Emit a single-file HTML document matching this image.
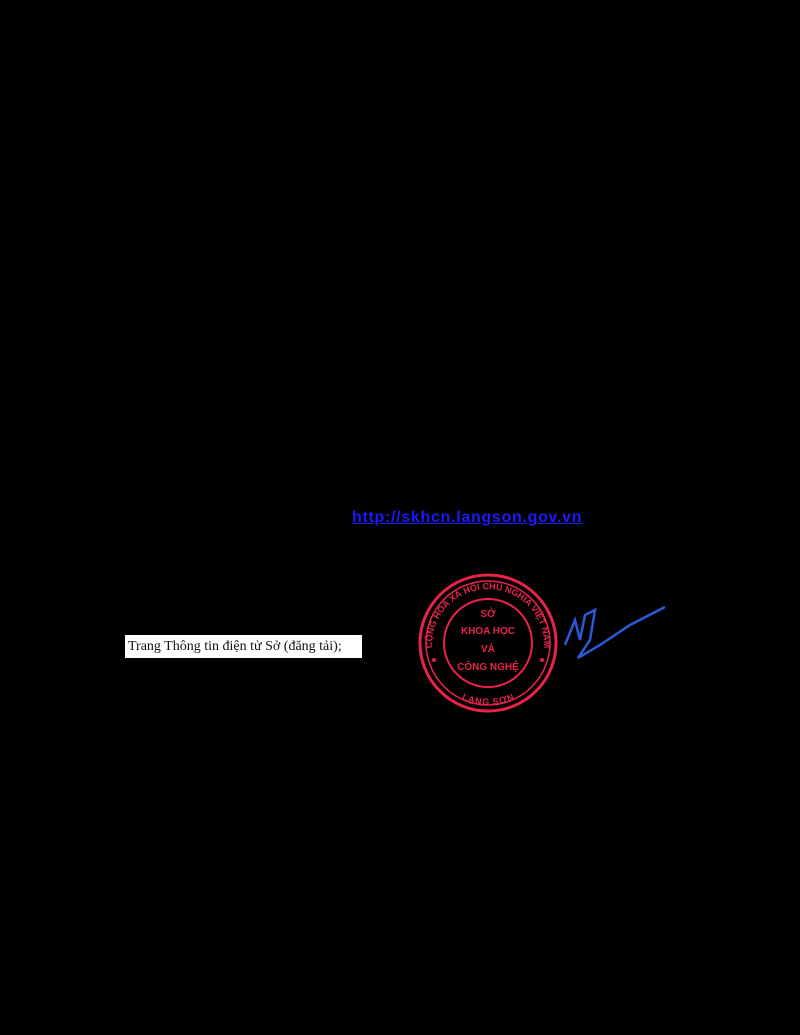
<!DOCTYPE html>
<html><head><meta charset="utf-8"><style>
html,body{margin:0;padding:0;background:#000;width:800px;height:1035px;overflow:hidden;position:relative}
.t{position:absolute;left:125px;top:635px;width:237px;height:23px;background:#fff;font-family:"Liberation Serif",serif;font-size:14px;line-height:23px;color:#111;padding-left:3px;box-sizing:border-box;white-space:nowrap}
.l{position:absolute;left:352px;top:509px;font-family:"Liberation Sans",sans-serif;font-weight:bold;font-size:16px;color:#1a1aff;text-decoration:underline;white-space:nowrap;letter-spacing:0.7px}
</style></head><body>
<div class="l">http://skhcn.langson.gov.vn</div>
<div class="t">Trang Thông tin điện tử Sở (đăng tải);</div>
<svg width="800" height="1035" style="position:absolute;left:0;top:0">
<defs>
<path id="top" d="M434 660 A56 56 0 1 1 542 660"/>
<path id="bot" d="M448 680 A56 56 0 0 0 528 680"/>
</defs>
<g fill="none" stroke="#e8234a">
<circle cx="488" cy="643" r="68" stroke-width="3"/>
<circle cx="488" cy="643" r="62" stroke-width="1.5"/>
<circle cx="488" cy="643" r="44" stroke-width="2"/>
</g>
<g fill="#e8234a" font-family="Liberation Sans,sans-serif" font-weight="bold" font-size="10" text-anchor="middle">
<text x="488" y="617">SỞ</text>
<text x="488" y="634">KHOA HỌC</text>
<text x="488" y="652">VÀ</text>
<text x="488" y="670">CÔNG NGHỆ</text>
<text font-size="9"><textPath href="#top" startOffset="50%">CỘNG HÒA XÃ HỘI CHỦ NGHĨA VIỆT NAM</textPath></text>
<text font-size="9" dy="8"><textPath href="#bot" startOffset="50%">LẠNG SƠN</textPath></text>
<circle cx="434" cy="660" r="2"/><circle cx="542" cy="660" r="2"/>
</g>
<path d="M565 645 L575 620 L580 640 L585 615 L595 610 L590 640 L578 658 L600 645 L630 625 L665 607" fill="none" stroke="#2a5ad8" stroke-width="2.5"/>
</svg>
</body></html>
